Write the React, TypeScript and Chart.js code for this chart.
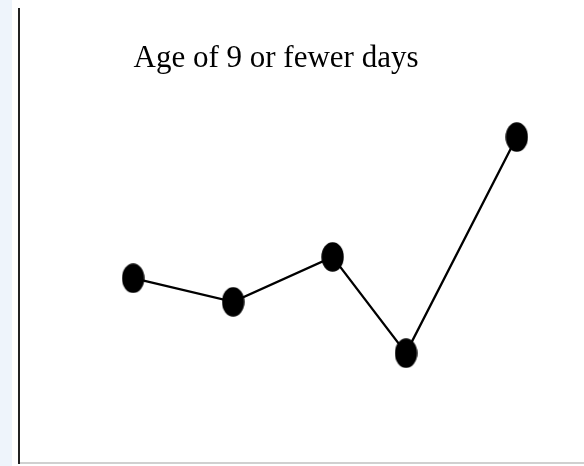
import React, { useEffect, useRef } from "react";
import { Chart, registerables } from "chart.js";

Chart.register(...registerables);

const titleText = "Age of 9 or fewer days";
const xPositions = [2.02, 3.79, 5.55, 6.85, 8.81];
const yValues = [4.07, 3.55, 4.54, 2.42, 7.18];

function makeMarker(): HTMLCanvasElement {
  const c = document.createElement("canvas");
  c.width = 23;
  c.height = 30;
  const ctx = c.getContext("2d")!;
  ctx.fillStyle = "#000";
  ctx.beginPath();
  ctx.ellipse(11.5, 15, 11.2, 14.7, 0, 0, Math.PI * 2);
  ctx.fill();
  return c;
}

const decorPlugin = {
  id: "decor",
  beforeDraw(chart: any) {
    const ctx = chart.ctx;
    ctx.save();
    ctx.fillStyle = "#ffffff";
    ctx.fillRect(0, 0, chart.width, chart.height);
    ctx.fillStyle = "#eef4fb";
    ctx.fillRect(0, 0, 12, chart.height);
    ctx.restore();
  },
  afterDraw(chart: any) {
    const ctx = chart.ctx;
    ctx.save();
    ctx.fillStyle = "#000";
    ctx.font = "31px 'Liberation Serif', 'Times New Roman', serif";
    ctx.textAlign = "center";
    ctx.textBaseline = "alphabetic";
    ctx.fillText(titleText, 276, 67);
    ctx.restore();
  },
};

export default function App() {
  const ref = useRef<HTMLCanvasElement>(null);
  useEffect(() => {
    if (!ref.current) return;
    const marker = makeMarker();
    const chart = new Chart(ref.current, {
      type: "line",
      data: {
        datasets: [
          {
            data: xPositions.map((x, i) => ({ x, y: yValues[i] })),
            borderColor: "#000",
            borderWidth: 2.3,
            pointStyle: marker as any,
            pointRadius: 12,
            tension: 0,
          },
        ],
      },
      options: {
        animation: false,
        responsive: false,
        layout: { autoPadding: false, padding: { left: 19, top: 9, right: 0, bottom: 3 } },
        plugins: { legend: { display: false }, tooltip: { enabled: false } },
        scales: {
          x: {
            type: "linear",
            min: 0,
            max: 10,
            grid: { display: false, drawTicks: false },
            ticks: { display: false },
            border: { display: true, color: "#d0d0d0", width: 2 },
          },
          y: {
            min: 0,
            max: 10,
            grid: { display: false, drawTicks: false },
            ticks: { display: false },
            border: { display: true, color: "#222", width: 2 },
          },
        },
      },
      plugins: [decorPlugin],
    });
    return () => chart.destroy();
  }, []);
  return (
    <div style={{ position: "fixed", left: 0, top: 0, width: 584, height: 466 }}>
      <canvas ref={ref} width={584} height={466} />
    </div>
  );
}
